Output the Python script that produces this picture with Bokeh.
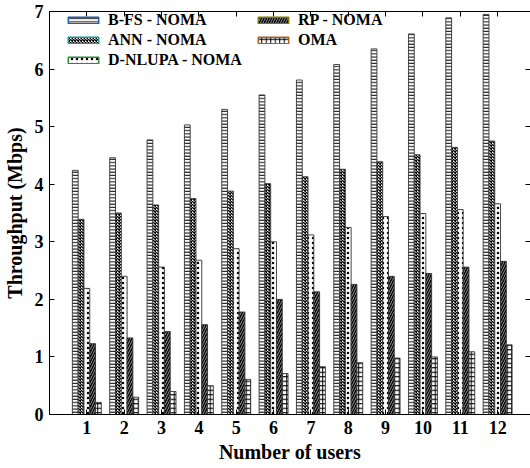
from bokeh.plotting import figure
from bokeh.models import (ColumnDataSource, Range1d, FixedTicker, LinearAxis, Legend, LegendItem)
from bokeh.transform import dodge
from bokeh.embed import file_html
from bokeh.resources import INLINE

users = [1, 2, 3, 4, 5, 6, 7, 8, 9, 10, 11, 12]
bfs_noma = [4.24, 4.46, 4.77, 5.03, 5.30, 5.55, 5.81, 6.08, 6.35, 6.61, 6.89, 6.95]
ann_noma = [3.39, 3.50, 3.64, 3.75, 3.88, 4.01, 4.13, 4.26, 4.39, 4.51, 4.64, 4.75]
dnlupa_noma = [2.19, 2.40, 2.56, 2.68, 2.88, 3.00, 3.12, 3.25, 3.44, 3.49, 3.56, 3.66]
rp_noma = [1.23, 1.33, 1.44, 1.56, 1.78, 2.00, 2.13, 2.26, 2.40, 2.45, 2.56, 2.66]
oma = [0.21, 0.30, 0.40, 0.50, 0.61, 0.71, 0.83, 0.90, 0.98, 1.00, 1.09, 1.21]
series_names = ["B-FS - NOMA", "ANN - NOMA", "D-NLUPA - NOMA", "RP - NOMA", "OMA"]
y_ticks = [0, 1, 2, 3, 4, 5, 6, 7]

FONT = "Liberation Serif"

src = ColumnDataSource(dict(users=users, bfs=bfs_noma, ann=ann_noma, dn=dnlupa_noma, rp=rp_noma, oma=oma))

p = figure(width=530, height=468, output_backend="svg", toolbar_location=None,
           x_range=Range1d(0, 12.88), y_range=Range1d(0, 7),
           frame_width=481, frame_height=403,
           min_border_left=48, min_border_top=11, min_border_bottom=54, min_border_right=1)
p.background_fill_color = "white"
p.border_fill_color = "white"
p.outline_line_color = "black"
p.xgrid.visible = False
p.ygrid.visible = False

w = 0.155
styles = [
    dict(fill_color="white", hatch_pattern="horizontal_line", hatch_color="black", hatch_scale=3.2, hatch_weight=1.0),
    dict(fill_color="white", hatch_pattern="diagonal_cross", hatch_color="black", hatch_scale=3.0, hatch_weight=1.4),
    dict(fill_color="white", hatch_pattern="dot", hatch_color="black", hatch_scale=5, hatch_weight=1.6),
    dict(fill_color="black", hatch_pattern="right_diagonal_line", hatch_color="white", hatch_scale=5, hatch_weight=0.6),
    dict(fill_color="white", hatch_pattern="cross", hatch_color="black", hatch_scale=4.5, hatch_weight=1.0),
]
cols = ["bfs", "ann", "dn", "rp", "oma"]
offsets = [-2 * w, -w, 0, w, 2 * w]
leg_colors = ["#1f5fa8", "#109a9a", "#2a8a3a", "#7a7a00", "#b0601c"]

for c, off, st in zip(cols, offsets, styles):
    p.vbar(x=dodge("users", off, range=p.x_range), top=c, width=w, bottom=0, source=src,
           line_color="#333333", line_width=0.9, **st)

# legend-only renderers (zero-height, placed outside the visible x range)
items1, items2 = [], []
for i, (name, st, lc) in enumerate(zip(series_names, styles, leg_colors)):
    r = p.vbar(x=[-50], top=[-5], bottom=[-5], width=w, line_color=lc, line_width=1.5, **st)
    it = LegendItem(label=name, renderers=[r])
    (items1 if i < 3 else items2).append(it)

def mk_legend(items, loc):
    lg = Legend(items=items, location=loc, padding=0, margin=0, spacing=2,
                glyph_width=38, glyph_height=8, label_height=14, label_standoff=6,
                border_line_color=None, background_fill_alpha=0,
                label_text_font=FONT, label_text_font_style="bold", label_text_font_size="16px",
                label_text_color="black")
    return lg

p.add_layout(mk_legend(items1, (15, 345)), "center")
p.add_layout(mk_legend(items2, (205, 365)), "center")

# bottom / left axes
p.xaxis.ticker = FixedTicker(ticks=users)
p.yaxis.ticker = FixedTicker(ticks=y_ticks)
for ax in [p.xaxis[0], p.yaxis[0]]:
    ax.major_tick_in = 5
    ax.major_tick_out = 0
    ax.minor_tick_line_color = None
    ax.axis_line_color = "black"
    ax.major_tick_line_color = "black"
    ax.major_label_text_font = FONT
    ax.major_label_text_font_style = "bold"
    ax.major_label_text_font_size = "18px"
    ax.major_label_text_color = "black"
    ax.axis_label_text_font = FONT
    ax.axis_label_text_font_style = "bold"
    ax.axis_label_text_font_size = "20px"
    ax.axis_label_text_color = "black"
p.xaxis.axis_label = "Number of users"
p.yaxis.axis_label = "Throughput (Mbps)"
p.xaxis.major_label_standoff = 6
p.xaxis.axis_label_standoff = 4
p.yaxis.major_label_standoff = 6
p.yaxis.axis_label_standoff = 6

# top / right box ticks (no labels)
top = LinearAxis(ticker=FixedTicker(ticks=users), major_label_text_font_size="1px",
                 major_label_text_color=None,
                 major_tick_in=5, major_tick_out=0, minor_tick_line_color=None,
                 major_label_standoff=0, axis_line_color="black")
right = LinearAxis(ticker=FixedTicker(ticks=y_ticks), major_label_text_font_size="1px",
                   major_label_text_color=None,
                   major_tick_in=5, major_tick_out=0, minor_tick_line_color=None,
                   major_label_standoff=0, axis_line_color="black")
p.add_layout(top, "above")
p.add_layout(right, "right")

open("out.html", "w").write(file_html(p, INLINE))
